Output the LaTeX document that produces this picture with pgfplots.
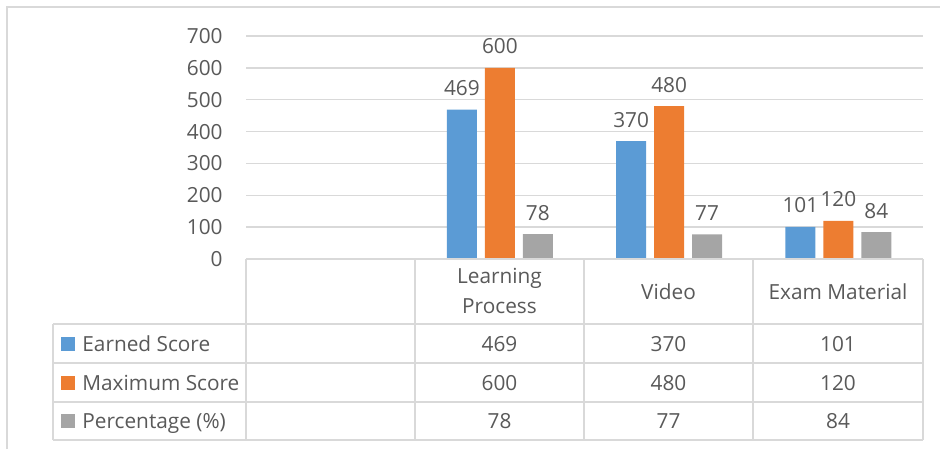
\documentclass[border=0pt]{standalone}
\usepackage{pgfplots}
\pgfplotsset{compat=1.18}
\usepackage{fontspec}
\setmainfont{Open Sans}
\definecolor{cblue}{HTML}{5B9BD5}
\definecolor{corange}{HTML}{ED7D31}
\definecolor{cgray}{HTML}{A5A5A5}
\definecolor{gridc}{HTML}{D9D9D9}
\definecolor{txt}{HTML}{595959}
\newcommand{\cf}{\fontsize{10.4}{12}\selectfont}
\begin{document}
\begin{tikzpicture}
\path[use as bounding box] (0pt,0pt) rectangle (470pt,-224.5pt);
\begin{axis}[at={(123pt,-129.5pt)}, anchor=south west, scale only axis,
  width=338.5pt, height=111.5pt,
  xmin=-0.5, xmax=3.5, ymin=0, ymax=700,
  ytick={0,100,...,700}, xtick=\empty,
  /pgf/number format/assume math mode=true,
  ymajorgrids, grid style={draw=gridc, line width=0.75pt},
  axis line style={draw=none}, major tick length=0pt,
  yticklabel style={font=\cf, text=txt, anchor=east, inner sep=0pt, xshift=-11.5pt},
  ybar=4pt, bar width=15pt,
  nodes near coords,
  every node near coord/.append style={font=\cf, text=txt, anchor=base, inner sep=0pt, yshift=7pt},
  clip=false]
\addplot[fill=cblue, draw=none] coordinates {(1,469) (2,370) (3,101)};
\addplot[fill=corange, draw=none] coordinates {(1,600) (2,480) (3,120)};
\addplot[fill=cgray, draw=none] coordinates {(1,78) (2,77) (3,84)};
\end{axis}
\begin{scope}[x=0.5pt,y=-0.5pt]
\draw[gridc, line width=0.75pt] (7,449) -- (7,7) -- (940,7);
\draw[gridc, line width=0.75pt]
  (246,259) -- (923,259)
  (53,324) -- (923,324)
  (53,363) -- (923,363)
  (53,402) -- (923,402)
  (53,440) -- (923,440)
  (53,324) -- (53,440)
  (246,259) -- (246,440)
  (415,259) -- (415,440)
  (584,259) -- (584,440)
  (753,259) -- (753,440)
  (923,259) -- (923,440);
\fill[cblue] (61,336.5) rectangle (75,350.5);
\fill[corange] (61,375.5) rectangle (75,389.5);
\fill[cgray] (61,414) rectangle (75,428);
\begin{scope}[every node/.style={font=\cf, text=txt, inner sep=0pt}]
\node[anchor=base west] at (82,351) {Earned Score};
\node[anchor=base west] at (82,390) {Maximum Score};
\node[anchor=base west] at (82,428.5) {Percentage (\%)};
\node[anchor=base] at (499.5,283) {Learning};
\node[anchor=base] at (499.5,313) {Process};
\node[anchor=base] at (668.5,299) {Video};
\node[anchor=base] at (838,299) {Exam Material};
\node[anchor=base] at (499.5,351) {469};
\node[anchor=base] at (668.5,351) {370};
\node[anchor=base] at (838,351) {101};
\node[anchor=base] at (499.5,390) {600};
\node[anchor=base] at (668.5,390) {480};
\node[anchor=base] at (838,390) {120};
\node[anchor=base] at (499.5,428.5) {78};
\node[anchor=base] at (668.5,428.5) {77};
\node[anchor=base] at (838,428.5) {84};
\end{scope}
\end{scope}
\end{tikzpicture}
\end{document}
